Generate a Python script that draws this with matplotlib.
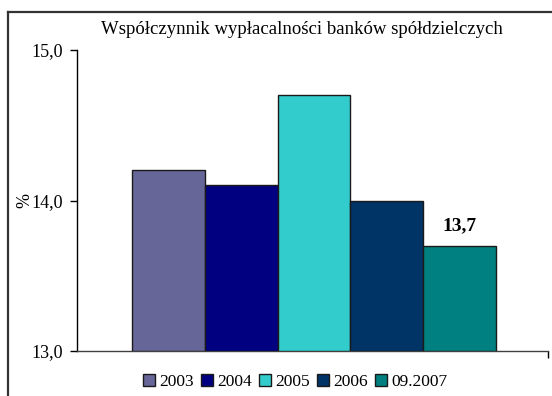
import matplotlib
matplotlib.use("Agg")
import matplotlib.pyplot as plt
from matplotlib.patches import Rectangle
from matplotlib.lines import Line2D

plt.rcParams['font.family'] = ['Liberation Serif', 'DejaVu Serif']

title = "Współczynnik wypłacalności banków spółdzielczych"
periods = ["2003", "2004", "2005", "2006", "09.2007"]
values = [14.2, 14.1, 14.7, 14.0, 13.7]
colors = ["#666699", "#000080", "#33CCCC", "#003366", "#008080"]
yticks = [13.0, 14.0, 15.0]
ytick_labels = ["13,0", "14,0", "15,0"]
label_value = "13,7"

W, H = 552, 396
fig = plt.figure(figsize=(W / 100, H / 100), dpi=100)
ax = fig.add_axes([77 / W, 1 - 351 / H, (548 - 77) / W, (351 - 50) / H])

xs = list(range(len(values)))
ax.bar(xs, [v - 13.0 for v in values], bottom=13.0, width=1.0,
       color=colors, edgecolor="#1a1a1a", linewidth=1.0, zorder=3)

ax.set_ylim(13.0, 15.0)
ax.set_xlim(-1.2555, 5.214)
ax.set_yticks(yticks)
ax.set_yticklabels(ytick_labels, fontsize=13)
ax.tick_params(axis='y', direction='out', length=5, width=1, pad=5, colors='black')
ax.set_xticks([5.214])
ax.set_xticklabels([""])
ax.tick_params(axis='x', direction='out', length=5, width=1)

for s in ("top", "right"):
    ax.spines[s].set_visible(False)
ax.spines["left"].set_linewidth(1)
ax.spines["bottom"].set_linewidth(1)
ax.spines["bottom"].set_color("#404040")

ax.set_ylabel("%", fontsize=13)
ax.yaxis.set_label_coords(-0.093, 0.5)

# value label above the last bar
ax.text(xs[-1], values[-1] + 0.13, label_value, ha='center', va='center',
        fontsize=14, fontweight='bold')

fig.text(302 / W, 1 - 29 / H, title, ha='center', va='center', fontsize=13.5)

handles = [Rectangle((0, 0), 1, 1, facecolor=c, edgecolor='#1a1a1a', linewidth=1)
           for c in colors]
fig.legend(handles, periods, loc='center', bbox_to_anchor=(295 / W, 1 - 382 / H),
           ncol=5, frameon=False, fontsize=12.5, handlelength=0.7,
           handleheight=0.7, handletextpad=0.25, columnspacing=0.4,
           borderaxespad=0, borderpad=0)

# outer chart frame (left and top edges)
fig.add_artist(Line2D([8 / W, 8 / W], [0, 1 - 12 / H], transform=fig.transFigure,
                      color='#333333', linewidth=1.6))
fig.add_artist(Line2D([8 / W, 1], [1 - 12 / H, 1 - 12 / H], transform=fig.transFigure,
                      color='#333333', linewidth=1.6))

fig.savefig("out.png", dpi=100)
